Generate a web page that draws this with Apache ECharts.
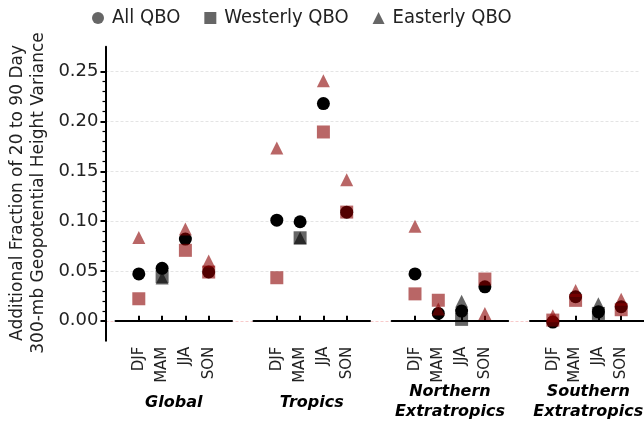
<!DOCTYPE html>
<html>
<head>
<meta charset="utf-8">
<script src="https://cdn.jsdelivr.net/npm/echarts@6/dist/echarts.min.js"></script>
<style>
html,body{margin:0;padding:0;background:#fff;}
#chart{width:644px;height:421px;}
</style>
</head>
<body>
<div id="chart"></div>
<script>
// ---- data ----
const seasons = ['DJF', 'MAM', 'JJA', 'SON'];
const regionNames = ['Global', 'Tropics', 'Northern\nExtratropics', 'Southern\nExtratropics'];
const seriesNames = ['All QBO', 'Westerly QBO', 'Easterly QBO'];
const yTicks = [0, 0.05, 0.10, 0.15, 0.20, 0.25];

// values per region: Global, Tropics, Northern Extratropics, Southern Extratropics
const allQBO = [
  [0.047, 0.0526, 0.082, 0.049],
  [0.101, 0.0994, 0.218, 0.109],
  [0.047, 0.0074, 0.0097, 0.0341],
  [-0.0013, 0.0241, 0.009, 0.0141]
];
const westerlyQBO = [
  [0.0221, 0.0442, 0.0707, 0.0489],
  [0.0432, 0.0833, 0.1895, 0.1091],
  [0.027, 0.0206, 0.0014, 0.0419],
  [0.0007, 0.0205, 0.0074, 0.0111]
];
const easterlyQBO = [
  [0.0835, 0.043, 0.0922, 0.060],
  [0.1734, 0.083, 0.2409, 0.1416],
  [0.0948, 0.0117, 0.0195, 0.0074],
  [0.005, 0.0305, 0.0171, 0.0215]
];
// significance (1 = significant, drawn red)
const westerlySig = [
  [1, 0, 1, 1],
  [1, 0, 1, 1],
  [1, 1, 0, 1],
  [1, 1, 0, 1]
];
const easterlySig = [
  [1, 0, 1, 1],
  [1, 0, 1, 1],
  [1, 1, 0, 1],
  [1, 1, 0, 1]
];

// ---- styling / layout ----
const FONT = 'DejaVu Sans';
const RED = 'rgba(139,0,0,0.6)';
const GRAY = 'rgba(0,0,0,0.6)';
const TOP = 46.8, HEIGHT = 293.9, WIDTH = 116.5;
const lefts = [115.5, 253.5, 391.7, 530];
const YMIN = -0.02, YMAX = 0.275;
const catData = [''].concat(seasons).concat([' ']);
const showIdx = (i) => i >= 1 && i <= 4;

const grids = [];
const xAxes = [];
const yAxes = [];
const series = [];

// label / gridline grid (index 0): maps 0..0.25 exactly
const yPix = v => TOP + HEIGHT * (YMAX - v) / (YMAX - YMIN);
grids.push({left: 105.5, width: 644 - 105.5 - 4, top: yPix(0.25), height: yPix(0) - yPix(0.25)});
xAxes.push({gridIndex: 0, type: 'value', min: 0, max: 1, show: false});
yAxes.push({
  gridIndex: 0, type: 'value', min: yTicks[0], max: yTicks[yTicks.length - 1], interval: 0.05,
  axisLine: {show: false},
  axisTick: {show: true, length: 5, lineStyle: {color: '#000', width: 2}},
  minorTick: {show: true, splitNumber: 5, length: 3, lineStyle: {color: '#000', width: 1.2}},
  axisLabel: {show: true, fontFamily: FONT, fontSize: 18, color: '#222', margin: 7,
    formatter: v => v.toFixed(2)},
  splitLine: {show: true, lineStyle: {type: [3, 2], width: 1,
    color: ['rgba(240,140,140,0.45)', '#e4e4e4', '#e4e4e4', '#e4e4e4', '#e4e4e4', '#e4e4e4']}}
});
series.push({type: 'scatter', xAxisIndex: 0, yAxisIndex: 0, data: [], silent: true});

for (let r = 0; r < 4; r++) {
  const gi = r + 1;
  grids.push({left: lefts[r], width: WIDTH, top: TOP, height: HEIGHT});
  xAxes.push({
    gridIndex: gi, type: 'category', data: catData, boundaryGap: false,
    axisLine: {show: true, lineStyle: {color: '#000', width: 2}},
    axisTick: {show: true, inside: true, length: 5, interval: showIdx, lineStyle: {color: '#000', width: 2}},
    axisLabel: {show: true, rotate: 90, interval: showIdx, fontFamily: FONT, fontSize: 15, color: '#222', margin: 6},
    splitLine: {show: false}
  });
  yAxes.push({
    gridIndex: gi, type: 'value', min: YMIN, max: YMAX,
    offset: 10,
    axisLine: {show: r === 0, onZero: false, lineStyle: {color: '#000', width: 2}},
    axisTick: {show: false},
    axisLabel: {show: false},
    splitLine: {show: false}
  });
  const common = {xAxisIndex: gi, yAxisIndex: gi, emphasis: {disabled: true}, silent: true};
  series.push(Object.assign({
    type: 'scatter', name: seriesNames[0], symbol: 'circle', symbolSize: 13,
    itemStyle: {color: '#000', opacity: 1},
    data: allQBO[r].map((v, i) => [i + 1, v])
  }, common));
  series.push(Object.assign({
    type: 'scatter', name: seriesNames[1], symbol: 'rect', symbolSize: 13,
    itemStyle: {color: GRAY, opacity: 1},
    data: westerlyQBO[r].map((v, i) => ({value: [i + 1, v], itemStyle: {color: westerlySig[r][i] ? RED : GRAY, opacity: 1}}))
  }, common));
  series.push(Object.assign({
    type: 'scatter', name: seriesNames[2], symbol: 'triangle', symbolSize: 13,
    itemStyle: {color: GRAY, opacity: 1},
    data: easterlyQBO[r].map((v, i) => ({value: [i + 1, v], itemStyle: {color: easterlySig[r][i] ? RED : GRAY, opacity: 1}}))
  }, common));
}

const graphics = [];
graphics.push({
  type: 'text', x: 28, y: 193, rotation: Math.PI / 2,
  style: {text: 'Additional Fraction of 20 to 90 Day\n300-mb Geopotential Height Variance',
    font: '17px "DejaVu Sans"', fill: '#222', align: 'center', verticalAlign: 'middle', lineHeight: 21}
});
regionNames.forEach((name, r) => {
  graphics.push({
    type: 'text', x: lefts[r] + WIDTH / 2, y: name.indexOf('\n') >= 0 ? 401.5 : 403,
    style: {text: name, font: 'italic bold 16px "DejaVu Sans"', fill: '#000',
      align: 'center', verticalAlign: 'middle', lineHeight: 20}
  });
});

const chart = echarts.init(document.getElementById('chart'), null, {renderer: 'canvas'});
chart.setOption({
  animation: false,
  backgroundColor: '#fff',
  grid: grids,
  xAxis: xAxes,
  yAxis: yAxes,
  legend: {
    left: 87, top: 3, itemWidth: 12, itemHeight: 12, itemGap: 24,
    textStyle: {fontFamily: '"DejaVu Sans Condensed", "DejaVu Sans"', fontSize: 20, color: '#222', padding: [0, 0, 0, 3]},
    data: [
      {name: seriesNames[0], icon: 'circle', itemStyle: {color: GRAY}},
      {name: seriesNames[1], icon: 'rect', itemStyle: {color: GRAY}},
      {name: seriesNames[2], icon: 'triangle', itemStyle: {color: GRAY}}
    ],
    selectedMode: false
  },
  graphic: graphics,
  series: series
});
</script>
</body>
</html>
